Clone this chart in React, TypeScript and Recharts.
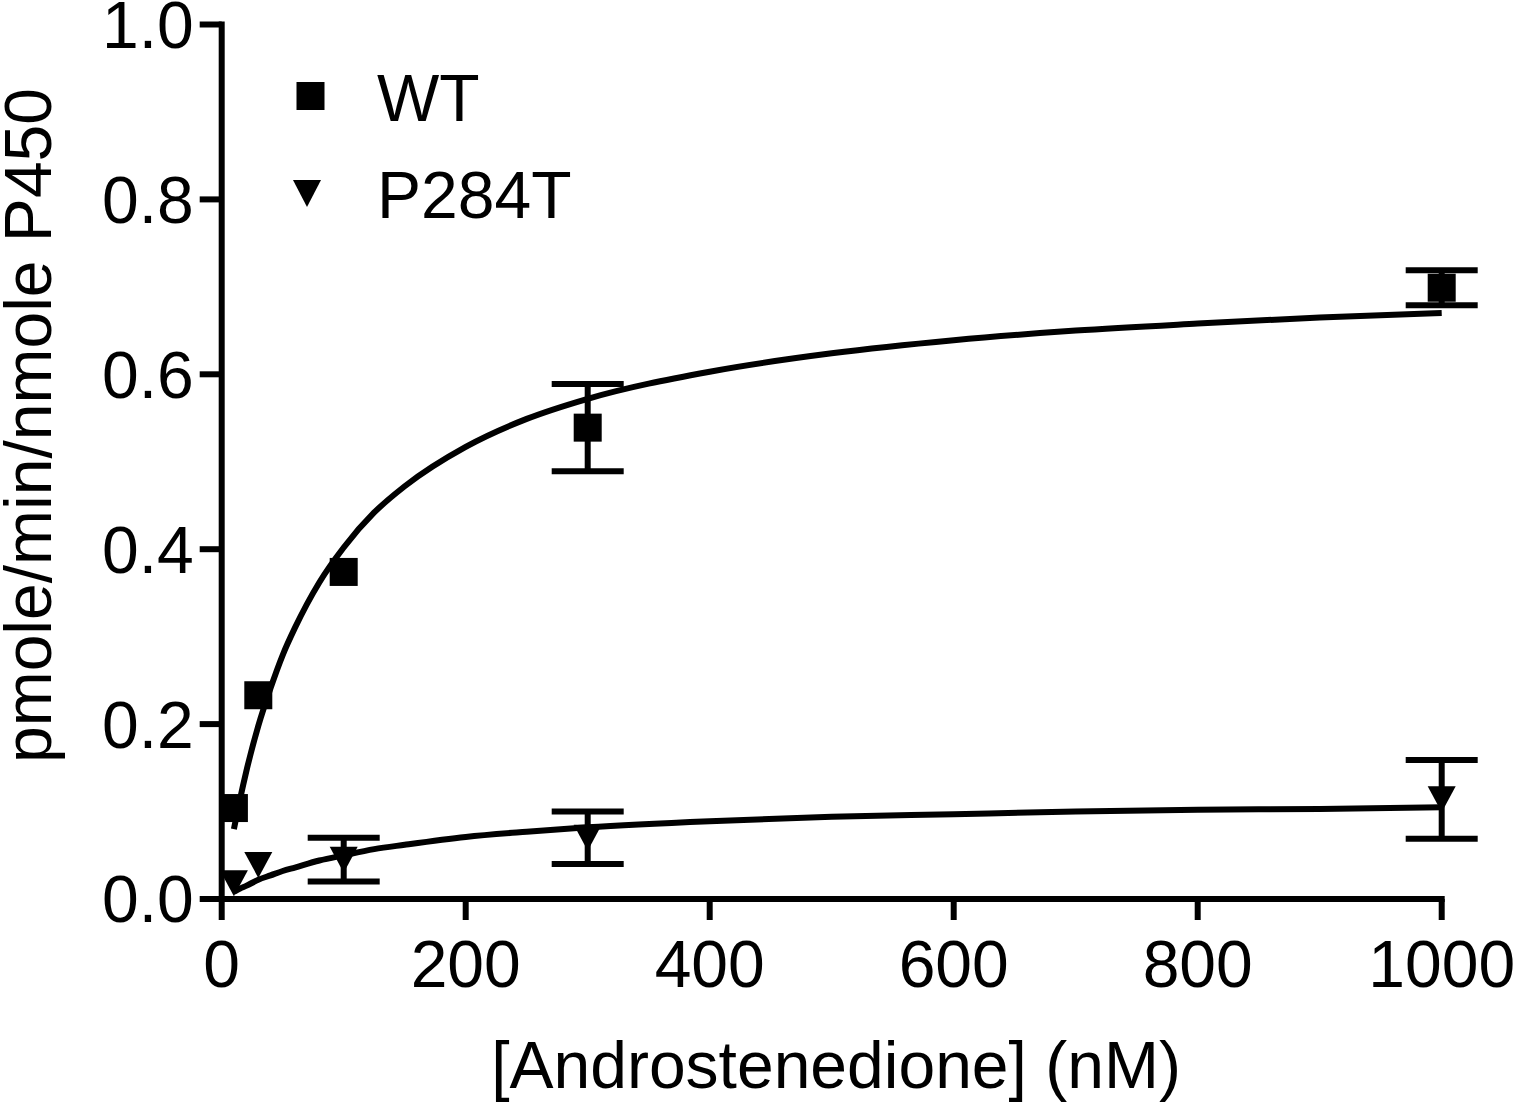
import React from 'react';
import { ComposedChart, Line, Scatter, XAxis, YAxis, ErrorBar } from 'recharts';

// Measured points (mean ± SEM)
const concentrations = [10, 30, 100, 300, 1000];
const wtValues = [0.104, 0.233, 0.374, 0.539, 0.699];
const wtErrors = [0, 0, 0, 0.05, 0.02];
const mutValues = [0.018, 0.039, 0.045, 0.07, 0.114];
const mutErrors = [0, 0, 0.025, 0.03, 0.045];

// Fitted curves
const fitX = [10, 15, 20, 30, 40, 50, 60, 80, 100, 125, 150, 200, 250, 300, 400, 500, 600, 700, 800, 900, 1000];
const wtFit = [0.08, 0.114, 0.145, 0.198, 0.241, 0.279, 0.31, 0.362, 0.402, 0.442, 0.472, 0.517, 0.549, 0.572, 0.603, 0.624, 0.639, 0.65, 0.658, 0.665, 0.67];
const mutFit = [0.008, 0.012, 0.015, 0.022, 0.027, 0.032, 0.036, 0.044, 0.05, 0.057, 0.062, 0.071, 0.077, 0.082, 0.089, 0.094, 0.097, 0.1, 0.102, 0.103, 0.105];

const xTicks = [0, 200, 400, 600, 800, 1000];
const yTicks = [0, 0.2, 0.4, 0.6, 0.8, 1.0];
const seriesNames = ['WT', 'P284T'];

const wtData = concentrations.map((x, i) => ({ x, y: wtValues[i], err: wtErrors[i] }));
const mutData = concentrations.map((x, i) => ({ x, y: mutValues[i], err: mutErrors[i] }));
const wtFitData = fitX.map((x, i) => ({ x, y: wtFit[i] }));
const mutFitData = fitX.map((x, i) => ({ x, y: mutFit[i] }));

const FONT = '"Liberation Sans", Arial, Helvetica, sans-serif';
const FS = 66;
const W = 1516;
const H = 1103;

const Square = (props: any) => {
  const { cx, cy } = props;
  if (cx == null || cy == null) return null;
  return <rect x={cx - 14} y={cy - 14} width={28} height={28} fill="#000" />;
};

const DownTriangle = (props: any) => {
  const { cx, cy } = props;
  if (cx == null || cy == null) return null;
  return <polygon points={`${cx - 14},${cy - 13} ${cx + 14},${cy - 13} ${cx},${cy + 13}`} fill="#000" />;
};

const axisLine = { stroke: '#000', strokeWidth: 6, strokeLinecap: 'square' as const };
const tickLine = { stroke: '#000', strokeWidth: 6 };
const tickStyle = { fill: '#000', fontSize: FS, fontFamily: FONT };

export default function App() {
  return (
    <div style={{ position: 'relative', width: W, height: H, overflow: 'hidden' }}>
      <style>{'html,body{margin:0;padding:0;overflow:hidden;}'}</style>
      <ComposedChart
        width={W}
        height={H}
        margin={{ top: 24.5, right: 74.3, left: 0, bottom: 0 }}
      >
        <XAxis
          type="number"
          dataKey="x"
          domain={[0, 1000]}
          ticks={xTicks}
          interval={0}
          height={204}
          axisLine={axisLine}
          tickLine={tickLine}
          tickSize={21}
          tickMargin={20}
          tick={tickStyle}
          label={{
            content: () => (
              <text x={836} y={1088} textAnchor="middle" fontFamily={FONT} fontSize={FS} fill="#000">
                [Androstenedione] (nM)
              </text>
            ),
          }}
        />
        <YAxis
          type="number"
          dataKey="y"
          domain={[0, 1]}
          ticks={yTicks}
          interval={0}
          width={221.7}
          axisLine={axisLine}
          tickLine={tickLine}
          tickSize={22}
          tickMargin={6}
          tick={tickStyle}
          tickFormatter={(v: number) => v.toFixed(1)}
          label={{
            content: () => (
              <text
                x={51}
                y={425.5}
                transform="rotate(-90, 51, 425.5)"
                textAnchor="middle"
                fontFamily={FONT}
                fontSize={FS}
                fill="#000"
              >
                pmole/min/nmole P450
              </text>
            ),
          }}
        />
        <Line
          data={wtFitData}
          dataKey="y"
          type="monotone"
          stroke="#000"
          strokeWidth={6}
          dot={false}
          activeDot={false}
          isAnimationActive={false}
          legendType="none"
        />
        <Line
          data={mutFitData}
          dataKey="y"
          type="monotone"
          stroke="#000"
          strokeWidth={6}
          dot={false}
          activeDot={false}
          isAnimationActive={false}
          legendType="none"
        />
        <Scatter name={seriesNames[0]} data={wtData} dataKey="y" shape={Square} isAnimationActive={false}>
          <ErrorBar dataKey="err" direction="y" width={36} strokeWidth={6} stroke="#000" isAnimationActive={false} />
        </Scatter>
        <Scatter name={seriesNames[1]} data={mutData} dataKey="y" shape={DownTriangle} isAnimationActive={false}>
          <ErrorBar dataKey="err" direction="y" width={36} strokeWidth={6} stroke="#000" isAnimationActive={false} />
        </Scatter>
      </ComposedChart>
      <svg
        width={W}
        height={H}
        style={{ position: 'absolute', left: 0, top: 0, pointerEvents: 'none' }}
      >
        <rect x={296.5} y={82} width={28} height={28} fill="#000" />
        <text x={377} y={121} fontFamily={FONT} fontSize={FS} fill="#000">{seriesNames[0]}</text>
        <polygon points="293,180 321,180 307,207" fill="#000" />
        <text x={377} y={218} fontFamily={FONT} fontSize={FS} fill="#000">{seriesNames[1]}</text>
      </svg>
    </div>
  );
}
